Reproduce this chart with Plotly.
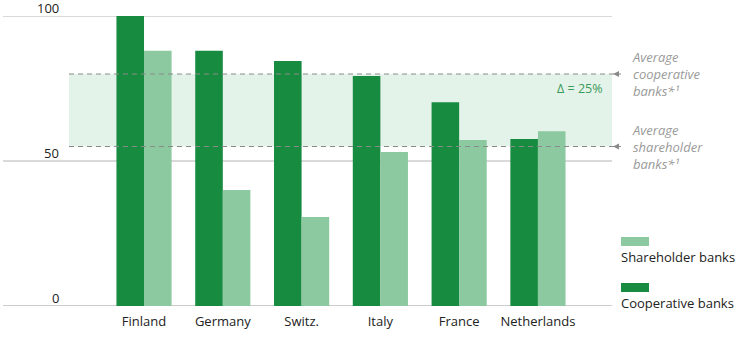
import plotly.graph_objects as go

countries = ["Finland", "Germany", "Switz.", "Italy", "France", "Netherlands"]
cooperative = [100, 88, 84.5, 79.3, 70.3, 57.6]
shareholder = [88, 40, 30.7, 53.1, 57.2, 60.3]
avg_coop = 80
avg_share = 55
y_ticks = [0, 50, 100]
series_names = ["Shareholder banks", "Cooperative banks"]

COOP = "#178c40"
SHARE = "#8cc8a0"
FONT = "Open Sans"

fig = go.Figure()
fig.add_trace(go.Bar(x=countries, y=cooperative, name=series_names[1],
                     marker_color=COOP, marker_line_width=0))
fig.add_trace(go.Bar(x=countries, y=shareholder, name=series_names[0],
                     marker_color=SHARE, marker_line_width=0))

W, H = 749, 337
L, R, T, B = 3, 612, 16, 306
YU = 100 / (B - T)  # data units per pixel


def px(x):
    return (x - L) / (R - L)


def py(y):
    return (B - y) / (B - T)


shapes = []
annotations = []
# gridlines
for t in y_ticks:
    shapes.append(dict(type="line", xref="paper", yref="y", x0=0, x1=1, y0=t, y1=t,
                       line=dict(color="#9a9a9a" if t == 0 else "#b4b4b4", width=1),
                       layer="below"))
# band
shapes.append(dict(type="rect", xref="paper", yref="y", x0=px(69), x1=1.0,
                   y0=avg_share, y1=avg_coop, fillcolor="#e4f3e9",
                   line_width=0, layer="below"))
for v in (avg_coop, avg_share):
    shapes.append(dict(type="line", xref="paper", yref="y", x0=px(69), x1=px(621),
                       y0=v, y1=v, line=dict(color="#8a8a8a", width=1, dash="5px,4px")))
    # arrowhead pointing left
    x_tip, x_base = px(613), px(619)
    shapes.append(dict(type="path", xref="paper", yref="y",
                       path="M %f,%f L %f,%f L %f,%f Z" % (x_tip, v, x_base, v + 3 * YU, x_base, v - 3 * YU),
                       fillcolor="#8a8a8a", line_width=0))

annotations.append(dict(xref="paper", yref="y", x=px(630), y=avg_coop, xanchor="left",
                        yanchor="middle", align="left", showarrow=False,
                        text="<i>Average<br>cooperative<br>banks*\u00b9</i>",
                        font=dict(family=FONT, size=13, color="#9a9a9a")))
annotations.append(dict(xref="paper", yref="y", x=px(630), y=avg_share, xanchor="left",
                        yanchor="middle", align="left", showarrow=False,
                        text="<i>Average<br>shareholder<br>banks*\u00b9</i>",
                        font=dict(family=FONT, size=13, color="#9a9a9a")))
annotations.append(dict(xref="paper", yref="y", x=px(605), y=(avg_coop + avg_share) / 2 + 7.5,
                        xanchor="right", yanchor="middle", showarrow=False,
                        text="\u0394 = %d%%" % (avg_coop - avg_share),
                        font=dict(family=FONT, size=12.5, color="#3a9a5a")))

# y tick labels above gridlines
for t in y_ticks:
    annotations.append(dict(xref="paper", yref="y", x=px(61), y=t, xanchor="right",
                            yanchor="bottom", showarrow=False, text=str(t), yshift=-3,
                            font=dict(family=FONT, size=13, color="#222")))

# legend (swatch above text)
leg = [(series_names[0], SHARE, 237), (series_names[1], COOP, 283)]
for name, col, ytop in leg:
    shapes.append(dict(type="rect", xref="paper", yref="paper", x0=px(621), x1=px(649),
                       y0=py(ytop + 9), y1=py(ytop), fillcolor=col, line_width=0))
    annotations.append(dict(xref="paper", yref="paper", x=px(619), y=py(ytop + 20),
                            xanchor="left", yanchor="middle", showarrow=False, text=name,
                            font=dict(family=FONT, size=13, color="#222")))

fig.update_layout(
    width=W, height=H,
    margin=dict(l=L, r=W - R, t=T, b=H - B, pad=0),
    paper_bgcolor="white", plot_bgcolor="white",
    barmode="group", bargap=0.3, bargroupgap=0,
    showlegend=False,
    shapes=shapes, annotations=annotations,
    font=dict(family=FONT, size=13, color="#222"),
    xaxis=dict(range=[-1.79, 5.94], showgrid=False, showline=False, ticks="",
               zeroline=False, tickfont=dict(family=FONT, size=13, color="#222"),
               ticklabelstandoff=6),
    yaxis=dict(range=[0, 100], tickvals=y_ticks, showticklabels=False,
               showgrid=False, zeroline=False, showline=False, ticks=""),
)

fig.write_html("out.html")
